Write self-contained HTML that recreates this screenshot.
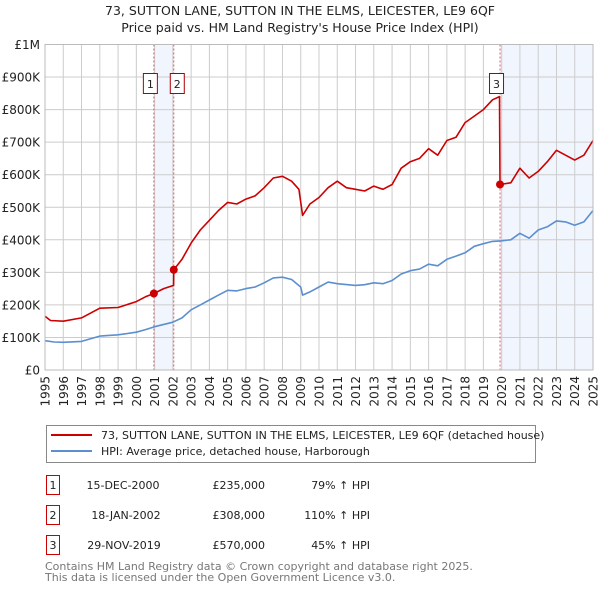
<!DOCTYPE html>
<html><head><meta charset="utf-8">
<style>
body{margin:0;background:#fff;font-family:"DejaVu Sans","Liberation Sans",sans-serif;}
svg text{font-family:"DejaVu Sans","Liberation Sans",sans-serif;}
</style></head>
<body>
<svg id="chart" width="600" height="590" xmlns="http://www.w3.org/2000/svg">
<text x="300" y="15" text-anchor="middle" font-size="12.5" fill="#222">73, SUTTON LANE, SUTTON IN THE ELMS, LEICESTER, LE9 6QF</text>
<text x="300" y="32" text-anchor="middle" font-size="12.5" fill="#222">Price paid vs. HM Land Registry's House Price Index (HPI)</text>
<g id="shades"></g><g id="grid"></g><g id="vlines"></g><g id="series"></g><g id="axes"></g>
<rect x="46.5" y="425.5" width="489" height="37" fill="#fff" stroke="#888"/>
<line x1="51" y1="435" x2="92" y2="435" stroke="#cc0000" stroke-width="2"/>
<text x="101" y="439" font-size="11" fill="#222">73, SUTTON LANE, SUTTON IN THE ELMS, LEICESTER, LE9 6QF (detached house)</text>
<line x1="51" y1="451" x2="92" y2="451" stroke="#5b8fd0" stroke-width="2"/>
<text x="101" y="455" font-size="11" fill="#222">HPI: Average price, detached house, Harborough</text>
<g font-size="11" fill="#222">
<rect x="46.5" y="475.5" width="13" height="19" fill="#fff" stroke="#cc0000"/><text x="53" y="489" text-anchor="middle">1</text>
<text x="123" y="489" text-anchor="middle">15-DEC-2000</text><text x="265" y="489" text-anchor="end">£235,000</text><text x="370" y="489" text-anchor="end">79% ↑ HPI</text>
<rect x="46.5" y="505.5" width="13" height="19" fill="#fff" stroke="#cc0000"/><text x="53" y="519" text-anchor="middle">2</text>
<text x="126" y="519" text-anchor="middle">18-JAN-2002</text><text x="265" y="519" text-anchor="end">£308,000</text><text x="370" y="519" text-anchor="end">110% ↑ HPI</text>
<rect x="46.5" y="535.5" width="13" height="19" fill="#fff" stroke="#cc0000"/><text x="53" y="549" text-anchor="middle">3</text>
<text x="124" y="549" text-anchor="middle">29-NOV-2019</text><text x="265" y="549" text-anchor="end">£570,000</text><text x="370" y="549" text-anchor="end">45% ↑ HPI</text>
</g>
<text x="45" y="570" font-size="11" fill="#777">Contains HM Land Registry data © Crown copyright and database right 2025.</text>
<text x="45" y="581" font-size="11" fill="#777">This data is licensed under the Open Government Licence v3.0.</text>
</svg>
<script>
const hpiYears=[1995,1995.5,1996,1997,1998,1999,2000,2000.5,2001,2002,2002.5,2003,2003.5,2004,2004.5,2005,2005.5,2006,2006.5,2007,2007.5,2008,2008.5,2009,2009.1,2009.5,2010,2010.5,2011,2012,2012.5,2013,2013.5,2014,2014.5,2015,2015.5,2016,2016.5,2017,2017.5,2018,2018.5,2019,2019.5,2020,2020.5,2021,2021.5,2022,2022.5,2023,2023.5,2024,2024.5,2025];
const hpiValues=[90,86,85,88,104,108,116,124,133,147,160,185,200,215,230,245,243,250,255,268,283,285,278,255,230,240,255,270,265,260,262,268,265,275,295,305,310,325,320,340,350,360,380,388,395,397,400,420,405,430,440,458,455,445,455,490];
const priceYears=[1995,1995.3,1996,1997,1998,1999,2000,2000.5,2000.96,2001.5,2002.04,2002.05,2002.5,2003,2003.5,2004,2004.5,2005,2005.5,2006,2006.5,2007,2007.5,2008,2008.5,2008.9,2009.1,2009.5,2010,2010.5,2011,2011.5,2012,2012.5,2013,2013.5,2014,2014.5,2015,2015.5,2016,2016.5,2017,2017.5,2018,2018.5,2019,2019.5,2019.88,2019.91,2020.5,2021,2021.5,2022,2022.5,2023,2023.5,2024,2024.5,2025];
const priceValues=[165,152,150,160,190,192,210,225,235,250,260,308,340,390,430,460,490,515,510,525,535,560,590,595,580,555,475,510,530,560,580,560,555,550,565,555,570,620,640,650,680,660,705,715,760,780,800,830,840,570,575,620,590,610,640,675,660,645,660,705];
const saleYears=[2000.96,2002.05,2019.91];
const saleValues=[235,308,570];
const saleLabels=["1","2","3"];
const yTicks=[0,100,200,300,400,500,600,700,800,900,1000];
const yTickLabels=["£0","£100K","£200K","£300K","£400K","£500K","£600K","£700K","£800K","£900K","£1M"];
const xTicks=[1995,1996,1997,1998,1999,2000,2001,2002,2003,2004,2005,2006,2007,2008,2009,2010,2011,2012,2013,2014,2015,2016,2017,2018,2019,2020,2021,2022,2023,2024,2025];

const X0=45,X1=593,Y0=370,Y1=44.5;
const xs=y=>X0+(y-1995)/30*(X1-X0);
const ys=v=>Y0-v/1000*(Y0-Y1);
const NS="http://www.w3.org/2000/svg";
function mk(tag,attrs,parent){const e=document.createElementNS(NS,tag);for(const k in attrs)e.setAttribute(k,attrs[k]);document.getElementById(parent).appendChild(e);return e;}

let s=mk('rect',{x:xs(saleYears[0]),y:Y1,width:xs(saleYears[1])-xs(saleYears[0]),height:Y0-Y1,fill:'#eef3fc',opacity:0.8},'shades');


s=mk('rect',{x:xs(saleYears[2]),y:Y1,width:X1-xs(saleYears[2]),height:Y0-Y1,fill:'#eef3fc',opacity:0.8},'shades');



yTicks.forEach((v,i)=>{
 const l=mk('line',{x1:X0,x2:X1,y1:ys(v),y2:ys(v),stroke:'#cccccc','stroke-width':1},'grid');
 
 
 const t=mk('text',{x:X0-5,y:ys(v)+4.5,'text-anchor':'end','font-size':12,fill:'#222'},'axes');
 
 
 t.textContent=yTickLabels[i];
});
xTicks.forEach(y=>{
 const l=mk('line',{x1:xs(y),x2:xs(y),y1:Y1,y2:Y0,stroke:'#cccccc','stroke-width':1},'grid');
 
 
 const t=mk('text',{x:0,y:0,'text-anchor':'end','font-size':12,fill:'#222',transform:`translate(${xs(y)+4.5},376) rotate(-90)`},'axes');
 
 
 t.textContent=y;
});
saleYears.forEach((y,i)=>{
 const l=mk('line',{x1:xs(y),x2:xs(y),y1:Y1,y2:Y0,stroke:'#e06060','stroke-width':1,'stroke-dasharray':'2,2'},'vlines');
 
 
});
function path(xa,va,color,name){
 const d=xa.map((y,i)=>(i?'L':'M')+xs(y).toFixed(1)+','+ys(va[i]).toFixed(1)).join(' ');
 const p=mk('path',{d:d,fill:'none',stroke:color,'stroke-width':1.6,'stroke-linejoin':'round'},'series');
 
 
}
path(hpiYears,hpiValues,'#5b8fd0','hpi-line');
path(priceYears,priceValues,'#cc0000','price-line');
const offs=[-4,3,-4];
saleYears.forEach((y,i)=>{
 const c=mk('circle',{cx:xs(y),cy:ys(saleValues[i]),r:4,fill:'#cc0000'},'series');
 
 
 const bx=xs(y)+offs[i]-7;
 const r=mk('rect',{x:bx+0.5,y:73.5,width:14,height:20,fill:'#fff',stroke:'#aa0000'},'series');
 
 
 const t=mk('text',{x:bx+7.5,y:88,'text-anchor':'middle','font-size':11,fill:'#222'},'series');
 
 
 t.textContent=saleLabels[i];
});
const fr=mk('rect',{x:X0,y:Y1,width:X1-X0,height:Y0-Y1,fill:'none',stroke:'#bbb'},'axes');


</script>
</body></html>
